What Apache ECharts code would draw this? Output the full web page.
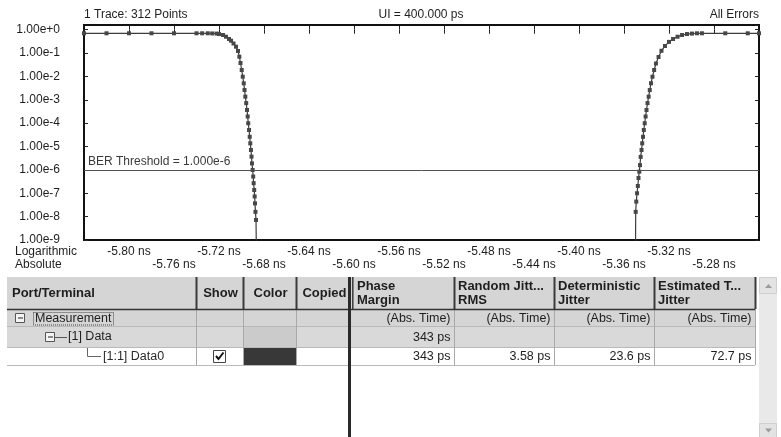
<!DOCTYPE html>
<html>
<head>
<meta charset="utf-8">
<title>BER Bathtub</title>
<script src="https://cdn.jsdelivr.net/npm/echarts@6/dist/echarts.min.js"></script>
<style>
  html, body { margin: 0; padding: 0; background: #fff; }
  #chart { width: 781px; height: 437px; }
</style>
</head>
<body>
<div id="chart"></div>
<script>
// ---- Bathtub trace: time (ns) and bit error ratio ----
const leftNs = [-5.84, -5.82, -5.80, -5.78, -5.76, -5.74, -5.735, -5.730, -5.726, -5.722,
  -5.7200, -5.7164, -5.7138, -5.7111, -5.7093, -5.7071, -5.7049, -5.7031, -5.7019, -5.7009,
  -5.6998, -5.6989, -5.6980, -5.6973, -5.6966, -5.6958, -5.6951, -5.6945, -5.6940, -5.6933,
  -5.6927, -5.6922, -5.6916, -5.6911, -5.6907, -5.6901, -5.6896, -5.6892, -5.6887, -5.6883,
  -5.6880, -5.6876, -5.6871, -5.6862];
const leftBer = [0.70, 0.70, 0.70, 0.70, 0.70, 0.70, 0.70, 0.70, 0.69, 0.68,
  0.65, 0.59, 0.50, 0.40, 0.337, 0.256, 0.187, 0.122, 0.0697, 0.0375,
  0.0188, 0.00973, 0.00507, 0.00262, 0.00136, 7.2e-4, 3.66e-4, 1.93e-4, 9.9e-5, 5.1e-5,
  2.6e-5, 1.37e-5, 7.1e-6, 3.7e-6, 1.9e-6, 9.9e-7, 5.2e-7, 2.7e-7, 1.38e-7, 7.3e-8,
  3.7e-8, 1.6e-8, 7.2e-9, 1e-12];

const rightNs = [-5.3500, -5.3496, -5.3491, -5.3484, -5.3477, -5.3471, -5.3464, -5.3458, -5.3452, -5.3444,
  -5.3438, -5.3431, -5.3424, -5.3416, -5.3408, -5.3400, -5.3391, -5.3381, -5.3371, -5.3360,
  -5.3347, -5.3332, -5.3316, -5.3293, -5.3267, -5.3236, -5.3200, -5.3164, -5.3124, -5.3084,
  -5.3040, -5.2996, -5.2951, -5.2907, -5.27, -5.25, -5.24];
const rightBer = [1e-12, 1.6e-8, 4.4e-8, 1.0e-7, 2.05e-7, 4.5e-7, 8.4e-7, 1.6e-6, 3.6e-6, 7.1e-6,
  1.37e-5, 2.6e-5, 5.1e-5, 9.9e-5, 1.93e-4, 3.66e-4, 7.2e-4, 1.36e-3, 2.6e-3, 5.1e-3,
  9.7e-3, 0.0188, 0.0357, 0.0678, 0.125, 0.20, 0.30, 0.40, 0.50, 0.59,
  0.65, 0.68, 0.70, 0.70, 0.70, 0.70, 0.70];

const berThreshold = 1e-6;
const uiPs = 400;
const headerTexts = ['1 Trace: 312 Points', 'UI = ' + uiPs.toFixed(3) + ' ps', 'All Errors'];
const axisModeTexts = ['Logarithmic', 'Absolute'];

// ---- Measurement table ----
const tableHeaders = ['Port/Terminal', 'Show', 'Color', 'Copied',
  'Phase\nMargin', 'Random Jitt...\nRMS', 'Deterministic\nJitter', 'Estimated T...\nJitter'];
const treeLabels = ['Measurement', '[1] Data', '[1:1] Data0'];
const unitRow = ['(Abs. Time)', '(Abs. Time)', '(Abs. Time)', '(Abs. Time)'];
const dataRow = ['343 ps', '', '', ''];
const data0Row = ['343 ps', '3.58 ps', '23.6 ps', '72.7 ps'];

const FONT = '"Liberation Sans", Arial, sans-serif';
const TXT = '#1e1e1e';

function toLogPairs(xs, ys) {
  return xs.map((x, i) => [x, Math.log10(ys[i])]);
}

function xLabel(v) {
  const idx = Math.round((v + 5.84) / 0.04);
  if (idx <= 0 || idx >= 15) return '';
  const s = v.toFixed(2) + ' ns';
  return idx % 2 === 1 ? s : '\n' + s;
}

function yLabel(v) {
  if (Math.abs(v - Math.round(v)) > 1e-6) return '';
  const n = Math.round(v);
  return '1.00e' + (n >= 0 ? '+' : '') + n;
}

// ---- graphic helpers ----
function text(x, y, s, opt) {
  opt = opt || {};
  return {
    type: 'text', silent: true, z: 10,
    style: {
      x: x, y: y, text: s, fill: opt.fill || TXT,
      font: (opt.weight || 'normal') + ' ' + (opt.size || 12) + 'px ' + FONT,
      textAlign: opt.align || 'left', align: opt.align || 'left',
      textVerticalAlign: 'middle', verticalAlign: 'middle',
      lineHeight: opt.lineHeight || 13
    }
  };
}
function rect(x, y, w, h, fill, stroke, lw) {
  return { type: 'rect', silent: true, z: 5, shape: { x: x, y: y, width: w, height: h },
    style: { fill: fill || 'none', stroke: stroke || null, lineWidth: lw || 1 } };
}
function line(x1, y1, x2, y2, stroke, lw, dash) {
  return { type: 'line', silent: true, z: 6, shape: { x1: x1, y1: y1, x2: x2, y2: y2 },
    style: { stroke: stroke, lineWidth: lw || 1, lineDash: dash || null } };
}

const cols = [7, 196, 243, 296, 349, 454, 554, 654, 755];
const hTop = 277, hBot = 309;
const rowTops = [309, 326, 347, 365];

const g = [];
// header
g.push(rect(cols[0], hTop, cols[8] - cols[0], hBot - hTop, '#d5d5d5'));
// body rows
g.push(rect(cols[0], rowTops[0], cols[8] - cols[0], rowTops[1] - rowTops[0], '#d5d5d5'));
g.push(rect(cols[0], rowTops[1], cols[8] - cols[0], rowTops[2] - rowTops[1], '#d9d9d9'));
g.push(rect(cols[2] + 1, rowTops[1], cols[3] - cols[2] - 1, rowTops[2] - rowTops[1], '#cbcbcb'));
// row separators
for (let i = 1; i < rowTops.length; i++) {
  g.push(line(cols[0], rowTops[i] + 0.5, cols[8], rowTops[i] + 0.5, '#b9b9b9', 1));
}
// body column separators
[1, 2, 3, 5, 6, 7, 8].forEach(c => {
  g.push(line(cols[c] + 0.5, hBot, cols[c] + 0.5, rowTops[3], '#a9a9a9', 1));
});
// header column separators
[1, 2, 3, 5, 6, 7, 8].forEach(c => {
  g.push(line(cols[c] + 0.5, hTop, cols[c] + 0.5, hBot, '#3a3a3a', 2));
});
g.push(line(cols[0], hBot + 0.5, cols[8], hBot + 0.5, '#333', 1.5));
// splitter between fixed and scrolling columns
g.push(line(349.5, hTop, 349.5, 437, '#2a2a2a', 3));
g.push(line(352.8, hTop, 352.8, hBot, '#3a3a3a', 1.5));

// header labels
g.push(text(12, 293, tableHeaders[0], { weight: 'bold', size: 13 }));
g.push(text((cols[1] + cols[2]) / 2 + 1, 293, tableHeaders[1], { weight: 'bold', size: 13, align: 'center' }));
g.push(text((cols[2] + cols[3]) / 2 + 1, 293, tableHeaders[2], { weight: 'bold', size: 13, align: 'center' }));
g.push(text((cols[3] + cols[4]) / 2 + 2, 293, tableHeaders[3], { weight: 'bold', size: 13, align: 'center' }));
[4, 5, 6, 7].forEach(c => {
  const x0 = c === 4 ? 357 : cols[c] + 4;
  g.push(text(x0, 293.5, tableHeaders[c], { weight: 'bold', size: 13, lineHeight: 13.4 }));
});

// tree column
function minusBox(x, y) {
  g.push(rect(x + 0.5, y + 0.5, 9, 9, '#f4f4f4', '#555', 1));
  g.push(line(x + 3, y + 5, x + 8, y + 5, '#222', 1));
}
minusBox(15, 313);
g.push(rect(33.5, 312.5, 80, 12.5, 'none', '#444', 1));
g.push(Object.assign(rect(33.5, 312.5, 80, 12.5, 'none', '#444', 1), {}));
g[g.length - 1].style.lineDash = [1, 1];
g.splice(g.length - 2, 1);
g.push(text(35, 318.5, treeLabels[0], { size: 12.5 }));
minusBox(45, 332);
g.push(line(55, 337.5, 67, 337.5, '#555', 1));
g.push(text(68, 337, treeLabels[1], { size: 12.5 }));
g.push(line(87.5, 348, 87.5, 356.5, '#666', 1));
g.push(line(87.5, 356.5, 101, 356.5, '#666', 1));
g.push(text(103, 356.5, treeLabels[2], { size: 12.5, fill: '#2a2a2a' }));

// show checkbox and colour swatch
g.push(rect(213.5, 350.5, 12, 12, '#fff', '#444', 1));
g.push({ type: 'polyline', silent: true, z: 7,
  shape: { points: [[216, 356], [218.5, 359], [223.5, 352.5]] },
  style: { stroke: '#111', lineWidth: 2, fill: 'none' } });
g.push(rect(244, 348, 52, 17, '#383838'));

// value columns
[5, 6, 7, 8].forEach((c, k) => {
  const xr = cols[c] - 3.5;
  g.push(text(xr, 318.5, unitRow[k], { size: 12.5, align: 'right' }));
  if (dataRow[k]) g.push(text(xr, 337.5, dataRow[k], { size: 12.5, align: 'right' }));
  g.push(text(xr, 356.5, data0Row[k], { size: 12.5, align: 'right' }));
});

// scrollbar
g.push(rect(759, 277, 18, 160, '#e9e9e9'));
g.push(rect(759.5, 277.5, 17, 16, '#e3e3e3', '#cfcfcf', 1));
g.push({ type: 'polygon', silent: true, z: 7, shape: { points: [[765, 288], [768.5, 284], [772, 288]] }, style: { fill: '#9c9c9c' } });
g.push(rect(759.5, 423.5, 17, 14, '#e3e3e3', '#cfcfcf', 1));
g.push({ type: 'polygon', silent: true, z: 7, shape: { points: [[765, 428.5], [768.5, 432.5], [772, 428.5]] }, style: { fill: '#9c9c9c' } });

// chart captions
g.push(text(84, 14.5, headerTexts[0]));
g.push(text(421, 14.5, headerTexts[1], { align: 'center' }));
g.push(text(759, 14.5, headerTexts[2], { align: 'right' }));
g.push(text(15, 252, axisModeTexts[0]));
g.push(text(15, 265, axisModeTexts[1]));

const seriesStyle = {
  type: 'line',
  symbol: 'rect',
  symbolSize: 4,
  showSymbol: true,
  showAllSymbol: true,
  clip: true,
  animation: false,
  silent: true,
  lineStyle: { color: '#3c3c3c', width: 1.2 },
  itemStyle: { color: '#474747' },
  emphasis: { disabled: true }
};

const option = {
  backgroundColor: '#ffffff',
  animation: false,
  textStyle: { fontFamily: FONT },
  grid: {
    left: 84, right: 22, top: 25, bottom: 197,
    show: true, borderColor: '#111', borderWidth: 2, backgroundColor: '#fff'
  },
  xAxis: [{
    type: 'value', position: 'bottom',
    min: -5.84, max: -5.24, interval: 0.04,
    axisLine: { show: false }, splitLine: { show: false },
    axisTick: { inside: true, length: 4, lineStyle: { color: '#222' } },
    axisLabel: {
      formatter: xLabel, color: TXT, fontSize: 12, fontFamily: FONT,
      lineHeight: 13, margin: 5.5, showMinLabel: false, showMaxLabel: false
    }
  }, {
    type: 'value', position: 'top',
    min: -5.84, max: -5.24, interval: 0.04,
    axisLine: { show: false }, splitLine: { show: false },
    axisTick: { inside: true, length: 4, lineStyle: { color: '#222' } },
    axisLabel: { show: false }
  }],
  yAxis: [{
    type: 'value', min: -9, max: 0.2, interval: 1,
    axisLine: { show: false }, splitLine: { show: false },
    axisTick: { inside: true, length: 4, lineStyle: { color: '#222' } },
    axisLabel: {
      formatter: yLabel, color: TXT, fontSize: 12, fontFamily: FONT,
      margin: 24, padding: [0, 0, 7, 0], showMaxLabel: false
    }
  }, {
    type: 'value', position: 'right', min: -9, max: 0.2, interval: 1,
    axisLine: { show: false }, splitLine: { show: false },
    axisTick: { inside: true, length: 4, lineStyle: { color: '#222' } },
    axisLabel: { show: false }
  }],
  series: [
    Object.assign({}, seriesStyle, {
      name: 'Data0 left',
      data: toLogPairs(leftNs, leftBer),
      markLine: {
        silent: true, symbol: ['none', 'none'], animation: false,
        lineStyle: { color: '#505050', width: 1, type: 'solid' },
        label: {
          show: true, position: 'insideStartTop', distance: [4, 2],
          formatter: 'BER Threshold = ' + berThreshold.toExponential(3),
          color: '#3a3a3a', fontSize: 12, fontFamily: FONT
        },
        data: [{ yAxis: Math.log10(berThreshold) }]
      }
    }),
    Object.assign({}, seriesStyle, {
      name: 'Data0 right',
      data: toLogPairs(rightNs, rightBer)
    })
  ],
  graphic: g
};

const chart = echarts.init(document.getElementById('chart'), null, { renderer: 'canvas' });
chart.setOption(option);
</script>
</body>
</html>
